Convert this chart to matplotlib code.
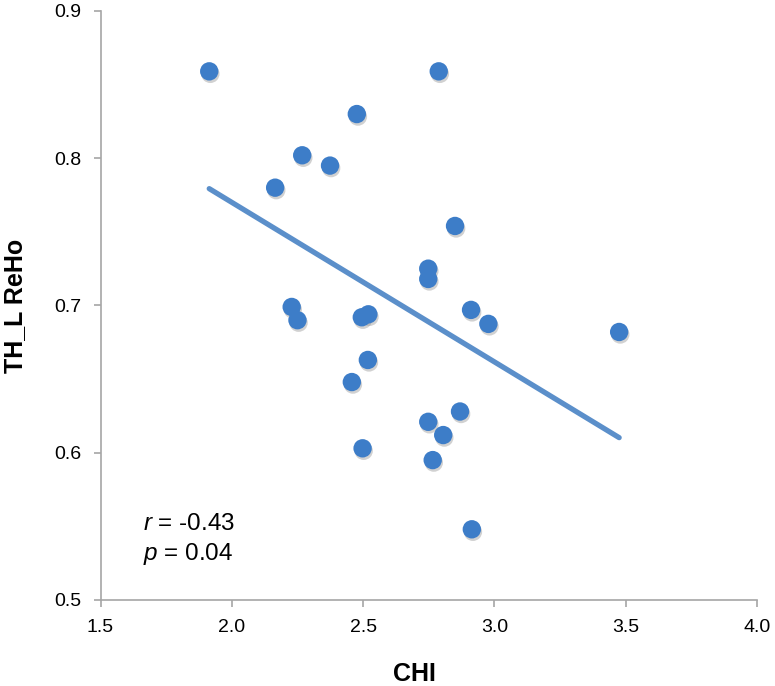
import numpy as np
import matplotlib.pyplot as plt
import matplotlib.patheffects as pe

plt.rcParams['font.family'] = ['Liberation Sans', 'DejaVu Sans']
plt.rcParams['mathtext.fontset'] = 'custom'
plt.rcParams['mathtext.rm'] = 'Liberation Sans'
plt.rcParams['mathtext.it'] = 'Liberation Sans:italic'

# CHI vs TH_L ReHo
chi = [1.914, 2.476, 2.268, 2.374, 2.165, 2.788, 2.850, 2.748, 2.748,
       2.228, 2.250, 2.495, 2.520, 2.518, 2.457, 2.498,
       2.911, 2.977, 3.475, 2.869, 2.748, 2.805, 2.765, 2.914]
reho = [0.859, 0.830, 0.802, 0.795, 0.780, 0.859, 0.754, 0.725, 0.718,
        0.699, 0.690, 0.692, 0.694, 0.663, 0.648, 0.603,
        0.697, 0.6875, 0.682, 0.628, 0.621, 0.612, 0.595, 0.548]

x_ticks = [1.5, 2.0, 2.5, 3.0, 3.5, 4.0]
y_ticks = [0.5, 0.6, 0.7, 0.8, 0.9]

dot_color = '#3D7DC8'
line_color = '#5B8FCA'
axis_gray = '#A6A6A6'

fig = plt.figure(figsize=(7.75, 6.86), dpi=100)
ax = fig.add_axes([0.1297, 0.1254, 0.8471, 0.8586])

# linear fit through the points
slope, inter = np.polyfit(chi, reho, 1)
xs = np.array([min(chi), max(chi)])
ax.plot(xs, slope * xs + inter, color=line_color, lw=3.8, solid_capstyle='round', zorder=2)

sc = ax.scatter(chi, reho, s=175, color=dot_color, edgecolors='none', zorder=3)
sc.set_path_effects([pe.SimplePatchShadow(offset=(0.8, -1.8), shadow_rgbFace='#9a9a9a', alpha=0.45),
                     pe.Normal()])

ax.set_xlim(1.5, 4.0)
ax.set_ylim(0.5, 0.9)
ax.set_xticks(x_ticks)
ax.set_yticks(y_ticks)
ax.set_xticklabels([f'{v:.1f}' for v in x_ticks])
ax.set_yticklabels([f'{v:.1f}' for v in y_ticks])

for s in ['top', 'right']:
    ax.spines[s].set_visible(False)
for s in ['left', 'bottom']:
    ax.spines[s].set_color(axis_gray)
    ax.spines[s].set_linewidth(1.2)

ax.tick_params(direction='out', length=5, width=1.2, color=axis_gray, labelsize=14)
ax.tick_params(axis='y', pad=9)
ax.tick_params(axis='x', pad=9)

ax.set_xlabel('CHI', fontsize=18, fontweight='bold')
ax.xaxis.set_label_coords(0.4775, -0.106)
ax.set_ylabel('TH_L ReHo', fontsize=18, fontweight='bold')
ax.yaxis.set_label_coords(-0.112, 0.5)

ax.text(1.66, 0.5475, r'$\it{r}$ = -0.43', fontsize=17.5)
ax.text(1.66, 0.5272, r'$\it{p}$ = 0.04', fontsize=17.5)

fig.savefig('out.png', dpi=100)
